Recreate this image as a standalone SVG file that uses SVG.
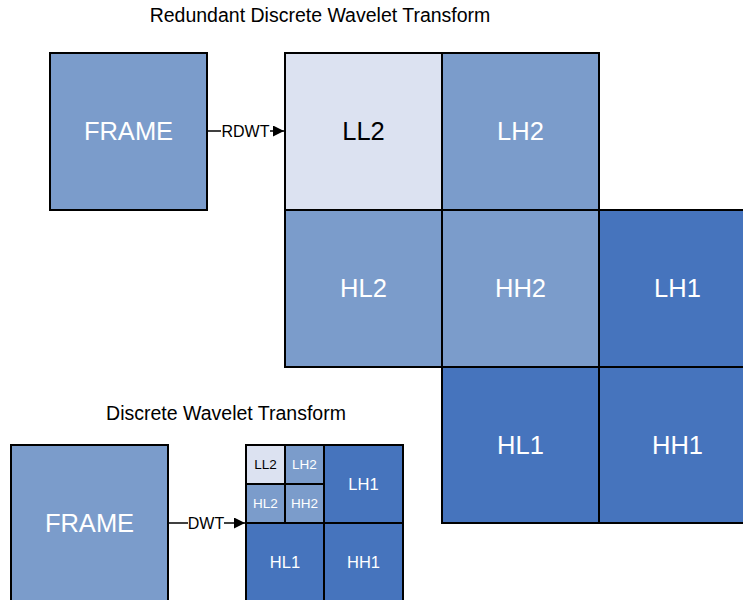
<svg xmlns="http://www.w3.org/2000/svg" width="743" height="600" viewBox="0 0 743 600">
<defs>
<style>
text{font-family:"Liberation Sans",Arial,sans-serif;text-anchor:middle;dominant-baseline:central}
.c{stroke:#000;stroke-width:2}
.l{fill:#dce2f1}
.m{fill:#7b9ccb}
.d{fill:#4674bd}
.big{font-size:25.5px;fill:#fff}
.sm{font-size:13.5px;fill:#fff}
.md{font-size:16.5px;fill:#fff}
.t{font-size:19.5px;fill:#000}
.lab{font-size:16px;fill:#000}
</style>
<marker id="ah" viewBox="0 0 10 10" refX="10" refY="5" markerWidth="11" markerHeight="11" markerUnits="userSpaceOnUse" orient="auto">
<path d="M0,0L10,5L0,10z" fill="#000"/>
</marker>
</defs>
<rect width="743" height="600" fill="#fff"/>
<text class="t" x="320" y="15">Redundant Discrete Wavelet Transform</text>
<text class="t" x="226" y="413">Discrete Wavelet Transform</text>
<g id="frame1"><rect class="c m" x="50" y="53" width="157" height="157"/><text class="big" x="128.5" y="131">FRAME</text></g>
<g id="rdwt">
<g id="r-ll2"><rect class="c l" x="285" y="53" width="157" height="157"/><text class="big" x="363.5" y="131" style="fill:#000">LL2</text></g>
<g id="r-lh2"><rect class="c m" x="442" y="53" width="157" height="157"/><text class="big" x="520.5" y="131">LH2</text></g>
<g id="r-hl2"><rect class="c m" x="285" y="210" width="157" height="157"/><text class="big" x="363.5" y="288">HL2</text></g>
<g id="r-hh2"><rect class="c m" x="442" y="210" width="157" height="157"/><text class="big" x="520.5" y="288">HH2</text></g>
<g id="r-lh1"><rect class="c d" x="599" y="210" width="157" height="157"/><text class="big" x="677.5" y="288">LH1</text></g>
<g id="r-hl1"><rect class="c d" x="442" y="367" width="157" height="156"/><text class="big" x="520.5" y="444.5">HL1</text></g>
<g id="r-hh1"><rect class="c d" x="599" y="367" width="157" height="156"/><text class="big" x="677.5" y="444.5">HH1</text></g>
</g>
<g id="frame2"><rect class="c m" x="11" y="445" width="157" height="157"/><text class="big" x="89.5" y="523">FRAME</text></g>
<g id="dwt">
<g id="d-ll2"><rect class="c l" x="246" y="445" width="39" height="39"/><text class="sm" x="265.5" y="464.5" style="fill:#000">LL2</text></g>
<g id="d-lh2"><rect class="c m" x="285" y="445" width="39" height="39"/><text class="sm" x="304.5" y="464.5">LH2</text></g>
<g id="d-hl2"><rect class="c m" x="246" y="484" width="39" height="39"/><text class="sm" x="265.5" y="503.5">HL2</text></g>
<g id="d-hh2"><rect class="c m" x="285" y="484" width="39" height="39"/><text class="sm" x="304.5" y="503.5">HH2</text></g>
<g id="d-lh1"><rect class="c d" x="324" y="445" width="79" height="78"/><text class="md" x="363.5" y="484">LH1</text></g>
<g id="d-hl1"><rect class="c d" x="246" y="523" width="78" height="79"/><text class="md" x="285" y="562">HL1</text></g>
<g id="d-hh1"><rect class="c d" x="324" y="523" width="79" height="79"/><text class="md" x="363.5" y="562">HH1</text></g>
</g>
<g id="connectors">
<g id="e1"><line x1="207" y1="131" x2="284" y2="131" stroke="#000" stroke-width="1.5" marker-end="url(#ah)"/><rect x="221" y="122" width="49" height="18" fill="#fff"/><text class="lab" x="245.5" y="131">RDWT</text></g>
<g id="e2"><line x1="168" y1="523" x2="245" y2="523" stroke="#000" stroke-width="1.5" marker-end="url(#ah)"/><rect x="188" y="514" width="36" height="18" fill="#fff"/><text class="lab" x="206" y="523">DWT</text></g>
</g>
</svg>
